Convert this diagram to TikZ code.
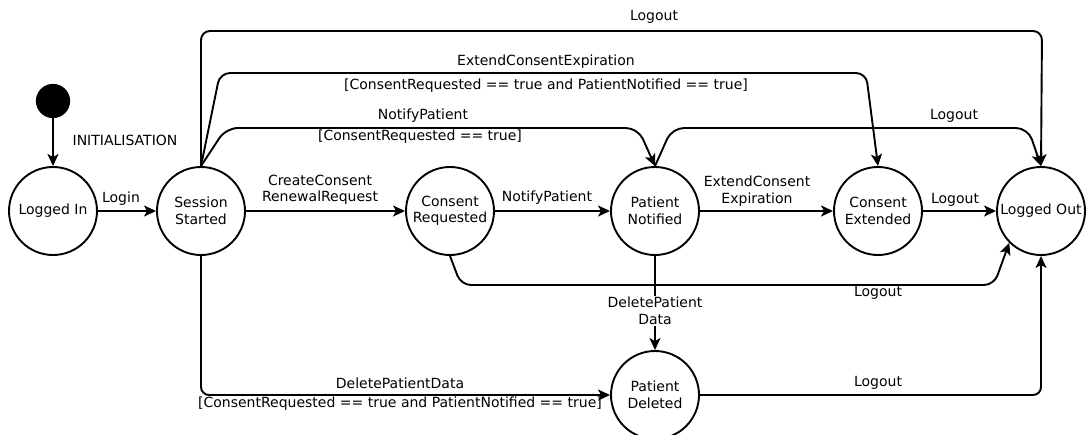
\documentclass[tikz,border=0pt]{standalone}
\usepackage{fontspec}
\setmainfont{DejaVu Sans}
\usetikzlibrary{arrows.meta}
\newcommand\lblfont{\fontsize{14}{16.5}\selectfont}

\begin{document}
\begin{tikzpicture}[x=1pt,y=-1pt,
  state/.style={circle,draw,line width=1.9pt,minimum size=88pt,inner sep=0pt,
    align=center,font=\lblfont},
  startdot/.style={circle,draw,fill=black,line width=1.2pt,minimum size=33pt,inner sep=0pt},
  tr/.style={line width=1.9pt,-{Stealth[length=12pt,width=11pt,inset=3pt]}},
  lbl/.style={inner sep=0pt,align=center,font=\lblfont}]

\useasboundingbox (0,0) rectangle (1087,434);

% states
\node[startdot] (init) at (53,101) {};
\node[state] (li) at (53,211) {Logged In};
\node[state] (ss) at (201,211) {Session\\Started};
\node[state] (cr) at (450,211) {Consent\\Requested};
\node[state] (pn) at (655,211) {Patient\\Notified};
\node[state] (ce) at (878,211) {Consent\\Extended};
\node[state] (lo) at (1041,211) {Logged Out};
\node[state] (pd) at (655,395) {Patient\\Deleted};

% transitions along the main row
\draw[tr] (init) -- (li);
\draw[tr] (li) -- (ss);
\draw[tr] (ss) -- (cr);
\draw[tr] (cr) -- (pn);
\draw[tr] (pn) -- (ce);
\draw[tr] (ce) -- (lo);

% transitions routed above the row
\draw[tr,rounded corners=9pt] (ss.north) -- (201,31) -- (1042,31) -- (lo.north);
\draw[tr,rounded corners=10pt] (ss.north) -- (220,73) -- (866,73) -- (ce.north);
\draw[tr,rounded corners=12pt] (ss.north) -- (226,128) -- (638,128) -- (pn.north);
\draw[tr,rounded corners=12pt] (pn.north) -- (672,128) -- (1028,128) -- (lo.north);

% transitions routed below the row
\draw[tr,rounded corners=10pt] (cr.south) -- (461,285) -- (994,285) -- (lo.south west);
\draw[tr] (pn.south) -- (pd.north);
\draw[tr,rounded corners=8pt] (ss.south) |- (pd.west);
\draw[tr,rounded corners=8pt] (pd.east) -| (lo.south);

% transition labels
\node[lbl] (lInit) at (125,140) {INITIALISATION};
\node[lbl] (lLogin) at (121,199) {Login};
\node[lbl] (lCreate) at (320,190) {CreateConsent\\RenewalRequest};
\node[lbl] (lNotify) at (547,198) {NotifyPatient};
\node[lbl] (lExtend) at (757,191) {ExtendConsent\\Expiration};
\node[lbl] (lLogoutCE) at (955,200) {Logout};
\node[lbl] (lLogoutTop) at (654,17) {Logout};
\node[lbl] (lExtTop) at (546,62) {ExtendConsentExpiration};
\node[lbl] (gExtTop) at (546,86) {[ConsentRequested == true and PatientNotified == true]};
\node[lbl] (lNotTop) at (423,116) {NotifyPatient};
\node[lbl] (gNotTop) at (420,137) {[ConsentRequested == true]};
\node[lbl] (lLogoutPN) at (954,116) {Logout};
\node[lbl] (lLogoutCR) at (878,293) {Logout};
\node[lbl,fill=white,inner ysep=1pt] (lDelPN) at (655,311) {DeletePatient\\Data};
\node[lbl] (lDelSS) at (400,383) {DeletePatientData};
\node[lbl] (gDelSS) at (400,404) {[ConsentRequested == true and PatientNotified == true]};
\node[lbl] (lLogoutPD) at (878,383) {Logout};
\end{tikzpicture}
\end{document}
